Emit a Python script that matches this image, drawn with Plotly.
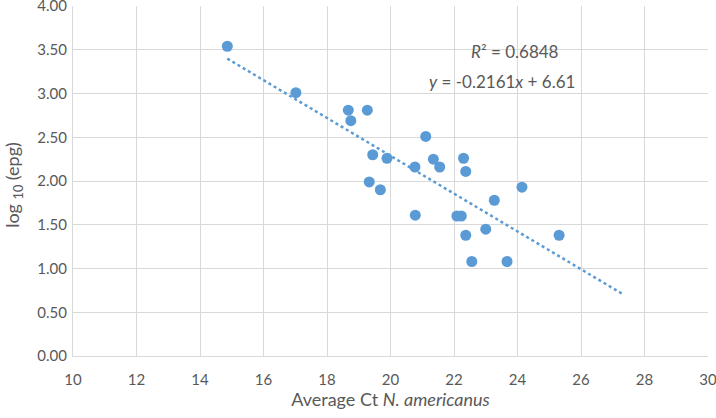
import plotly.graph_objects as go

# Data
ct_values = [14.86, 17.02, 18.67, 19.27, 18.75, 21.11, 19.44, 19.89, 20.77, 21.35,
             21.55, 19.33, 19.68, 20.78, 22.30, 22.37, 24.14, 23.27, 22.09, 22.23,
             23.00, 22.37, 25.31, 22.56, 23.67]
log_epg = [3.54, 3.01, 2.81, 2.81, 2.69, 2.51, 2.30, 2.26, 2.16, 2.25,
           2.16, 1.99, 1.90, 1.61, 2.26, 2.11, 1.93, 1.78, 1.60, 1.60,
           1.45, 1.38, 1.38, 1.08, 1.08]

slope = -0.2161
intercept = 6.61
r_squared = 0.6848
trend_x = [min(ct_values), 27.3]
trend_y = [slope * x + intercept for x in trend_x]

x_ticks = list(range(10, 31, 2))
y_ticks = [0.0, 0.5, 1.0, 1.5, 2.0, 2.5, 3.0, 3.5, 4.0]

blue = "#5B9BD5"
grid = "#D9D9D9"
txt = "#595959"
font_family = "Lato, 'Open Sans', sans-serif"

fig = go.Figure()
fig.add_trace(go.Scatter(
    x=trend_x, y=trend_y, mode="lines",
    line=dict(color=blue, width=2.5, dash="dot"),
    hoverinfo="skip", showlegend=False))
fig.add_trace(go.Scatter(
    x=ct_values, y=log_epg, mode="markers",
    marker=dict(color=blue, size=11, line=dict(width=0)),
    showlegend=False))

fig.add_annotation(x=23.93, y=3.48, xref="x", yref="y", showarrow=False,
                   text=f"<i>R</i>² = {r_squared:.4f}",
                   font=dict(family=font_family, size=17, color=txt))
fig.add_annotation(x=23.52, y=3.136, xref="x", yref="y", showarrow=False,
                   text=f"<i>y</i> = {slope:.4f}<i>x</i> + {intercept:.2f}",
                   font=dict(family=font_family, size=17, color=txt))
# y-axis title placed precisely
fig.add_annotation(x=-0.094, y=0.49, xref="paper", yref="paper", showarrow=False,
                   xanchor="center", yanchor="middle", textangle=-90,
                   text="log <sub>10</sub> (epg)",
                   font=dict(family=font_family, size=18, color=txt))

fig.update_layout(
    width=716, height=418,
    margin=dict(l=73, r=8, t=6, b=62),
    paper_bgcolor="white", plot_bgcolor="white",
    font=dict(family=font_family, size=15, color=txt),
    xaxis=dict(
        range=[10, 30], tickvals=x_ticks, ticktext=[str(v) for v in x_ticks],
        showgrid=True, gridcolor=grid, gridwidth=1,
        showline=True, linecolor=grid, linewidth=1, zeroline=False,
        ticks="", tickfont=dict(size=15, color=txt),
        ticklabeloverflow="allow", ticklabelstandoff=10,
        automargin=False,
        title=dict(text="Average Ct <i>N. americanus</i>",
                   font=dict(size=18, color=txt), standoff=6),
    ),
    yaxis=dict(
        range=[0, 4], tickvals=y_ticks, ticktext=[f"{v:.2f}" for v in y_ticks],
        showgrid=True, gridcolor=grid, gridwidth=1,
        showline=True, linecolor=grid, linewidth=1, zeroline=False,
        ticks="", tickfont=dict(size=15, color=txt),
        ticklabeloverflow="allow", ticklabelstandoff=2,
        automargin=False,
    ),
)

fig.write_html("out.html",
               config={"displayModeBar": False},
               post_script="document.body.style.margin='0';document.body.style.overflow='hidden';")
